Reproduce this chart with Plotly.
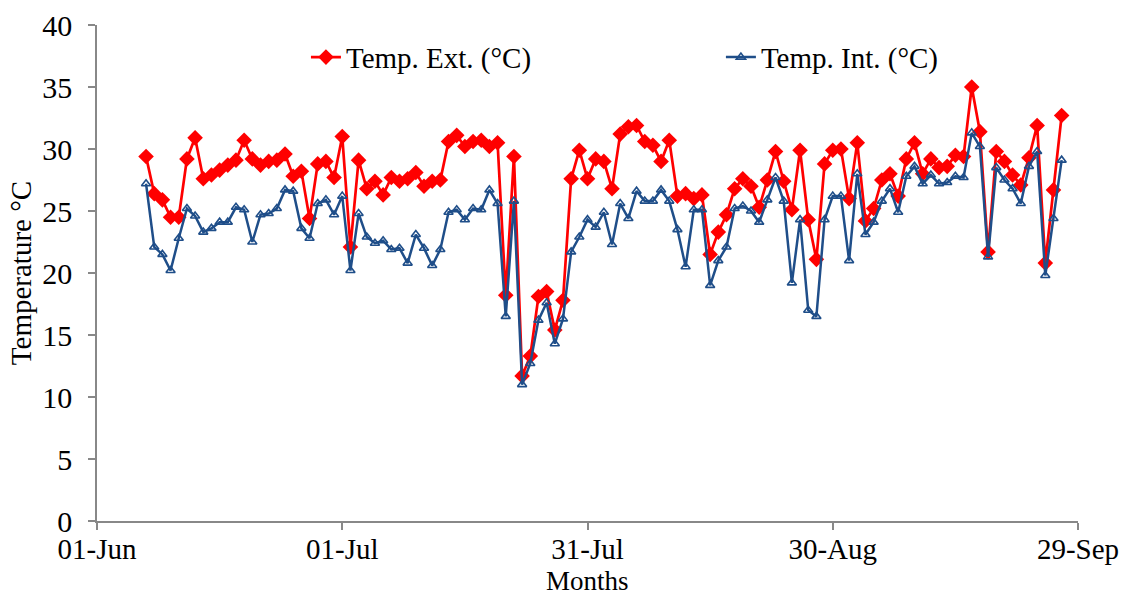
import pandas as pd
import plotly.graph_objects as go

start_date = "2013-06-07"
temp_ext = [29.4, 26.4, 25.9, 24.5, 24.5, 29.2, 30.9, 27.6, 27.9, 28.3,
            28.7, 29.1, 30.7, 29.2, 28.7, 29.0, 29.1, 29.6, 27.8, 28.2,
            24.4, 28.8, 29.0, 27.7, 31.0, 22.1, 29.1, 26.8, 27.4, 26.3,
            27.7, 27.4, 27.6, 28.1, 27.0, 27.4, 27.5, 30.6, 31.1, 30.2,
            30.6, 30.7, 30.2, 30.5, 18.2, 29.4, 11.7, 13.3, 18.1, 18.5,
            15.4, 17.8, 27.6, 29.9, 27.6, 29.2, 29.0, 26.8, 31.2, 31.8,
            31.9, 30.6, 30.3, 29.0, 30.7, 26.2, 26.4, 26.0, 26.3, 21.5,
            23.3, 24.7, 26.8, 27.6, 27.0, 25.3, 27.5, 29.8, 27.4, 25.1,
            29.9, 24.3, 21.1, 28.8, 29.9, 30.0, 26.0, 30.5, 24.2, 25.2,
            27.5, 28.0, 26.2, 29.2, 30.5, 28.0, 29.2, 28.5, 28.6, 29.5,
            29.4, 35.0, 31.4, 21.7, 29.8, 29.0, 27.9, 27.1, 29.3, 31.9,
            20.8, 26.7, 32.7]
temp_int = [27.2, 22.1, 21.5, 20.2, 22.8, 25.2, 24.6, 23.3, 23.6, 24.1,
            24.1, 25.3, 25.1, 22.5, 24.7, 24.8, 25.2, 26.7, 26.6, 23.6,
            22.8, 25.6, 25.9, 24.7, 26.2, 20.2, 24.8, 22.9, 22.4, 22.6,
            21.9, 22.0, 20.8, 23.1, 22.0, 20.6, 21.9, 24.9, 25.1, 24.3,
            25.2, 25.1, 26.7, 25.6, 16.5, 25.8, 11.0, 12.7, 16.2, 17.6,
            14.3, 16.3, 21.7, 22.9, 24.3, 23.7, 24.9, 22.3, 25.6, 24.4,
            26.6, 25.8, 25.8, 26.7, 25.8, 23.5, 20.5, 25.1, 25.1, 19.0,
            21.0, 22.1, 25.2, 25.4, 25.0, 24.1, 25.9, 27.7, 25.8, 19.2,
            24.3, 17.0, 16.5, 24.3, 26.2, 26.2, 21.0, 28.0, 23.1, 24.1,
            25.8, 26.8, 24.9, 27.8, 28.6, 27.2, 27.9, 27.2, 27.3, 27.8,
            27.7, 31.3, 30.2, 21.3, 28.5, 27.5, 26.8, 25.6, 28.6, 29.8,
            19.8, 24.4, 29.1]
tick_dates = ["2013-06-01", "2013-07-01", "2013-07-31", "2013-08-30", "2013-09-29"]
tick_labels = ["01-Jun", "01-Jul", "31-Jul", "30-Aug", "29-Sep"]
x_title = "Months"
y_title = "Temperature °C"

dates = pd.date_range(start_date, periods=len(temp_ext), freq="D")

FONT = "Liberation Serif, Times New Roman, serif"
RED = "#FF0000"
BLUE = "#1F4E89"
AXC = "#888888"

fig = go.Figure()
fig.add_trace(go.Scatter(
    x=dates, y=temp_ext, mode="lines+markers", name="Temp. Ext. (°C)",
    line=dict(color=RED, width=2.7),
    marker=dict(symbol="diamond", size=12, color=RED),
    legend="legend"))
fig.add_trace(go.Scatter(
    x=dates, y=temp_int, mode="lines+markers", name="Temp. Int. (°C)",
    line=dict(color=BLUE, width=2.5),
    marker=dict(symbol="triangle-up-open", size=8, color=BLUE, line=dict(width=1.6, color=BLUE)),
    legend="legend2"))

fig.update_layout(
    width=1121, height=596,
    margin=dict(l=97, r=43, t=25, b=75),
    paper_bgcolor="white", plot_bgcolor="white",
    font=dict(family=FONT, size=29, color="#000000"),
    legend=dict(x=0.213, y=0.935, xanchor="left", yanchor="middle",
                font=dict(family=FONT, size=29), bgcolor="rgba(0,0,0,0)"),
    legend2=dict(x=0.636, y=0.935, xanchor="left", yanchor="middle",
                 font=dict(family=FONT, size=29), bgcolor="rgba(0,0,0,0)"),
    showlegend=True,
    annotations=[dict(text=x_title, xref="paper", yref="paper", x=0.5, y=-0.121,
                      xanchor="center", yanchor="middle", showarrow=False,
                      borderpad=0, font=dict(family=FONT, size=27))],
)
fig.update_xaxes(
    type="date", range=[tick_dates[0], tick_dates[-1]],
    tickvals=tick_dates, ticktext=tick_labels,
    showgrid=False, zeroline=False, automargin=False,
    showline=True, linecolor=AXC, linewidth=1.5,
    ticks="outside", ticklen=7, tickcolor=AXC, tickwidth=1.5,
    ticklabelstandoff=-6,
    tickfont=dict(family=FONT, size=29),
)
fig.update_yaxes(
    range=[0, 40], dtick=5, tick0=0,
    showgrid=False, zeroline=False, automargin=False,
    showline=True, linecolor=AXC, linewidth=1.5,
    ticks="outside", ticklen=7, tickcolor=AXC, tickwidth=1.5,
    ticklabelstandoff=10,
    tickfont=dict(family=FONT, size=30),
    title=dict(text=y_title, standoff=2, font=dict(family=FONT, size=29)),
)

fig.write_html("out.html", config={"displayModeBar": False},
               post_script="document.body.style.margin='0';document.body.style.overflow='hidden';")
